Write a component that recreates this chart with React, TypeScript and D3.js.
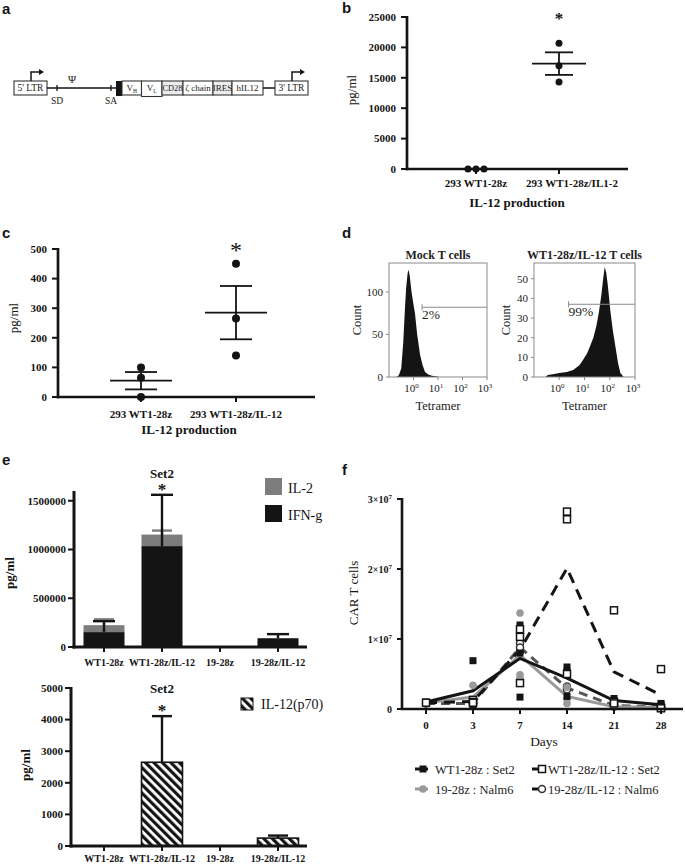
import React from "react";
import * as d3 from "d3";

const SERIF = "'Liberation Serif','Times New Roman',Times,serif";
const SANS = "'Liberation Sans',Arial,Helvetica,sans-serif";
const INK = "#141414";

// ---------- panel a: vector map ----------
const mapLabels = ["5' LTR", "", "", "VH", "VL", "CD28", "ζ chain", "IRES", "hIL12", "", "3' LTR"];
const mapKinds = ["ltr", "line", "leader", "box", "box", "boxg", "box", "boxg", "box", "line", "ltr"];
const mapLengths = [33, 69, 6, 19.5, 20.5, 21, 30, 19, 31, 12, 33];
const mapSiteLabels = ["SD", "SA"];
const mapSitePos = [43, 97];
const mapPsiPos = 58;

// ---------- panel b ----------
const bCats = ["293 WT1-28z", "293 WT1-28z/IL1-2"];
const bValues = [
  [0, 0, 0],
  [20700, 17000, 14300],
];
const bTicks = [0, 5000, 10000, 15000, 20000, 25000];

// ---------- panel c ----------
const cCats = ["293 WT1-28z", "293 WT1-28z/IL-12"];
const cValues = [
  [100, 65, 0],
  [450, 265, 140],
];
const cTicks = [0, 100, 200, 300, 400, 500];

// ---------- panel d: histograms (log10 tetramer, count) ----------
const mockHist: [number, number][] = [
  [-0.7, 0], [-0.6, 2], [-0.5, 10], [-0.42, 40], [-0.35, 80], [-0.3, 105], [-0.24, 122],
  [-0.2, 126], [-0.15, 118], [-0.08, 100], [0, 85], [0.06, 75], [0.15, 50], [0.27, 26],
  [0.37, 14], [0.47, 6], [0.6, 3], [0.75, 1.5], [0.95, 0.5], [1.05, 0],
];
const carHist: [number, number][] = [
  [-0.55, 0], [-0.45, 1], [-0.2, 1.5], [0, 2], [0.3, 2.5], [0.55, 3.5], [0.8, 6], [0.94, 8.6],
  [1.1, 12], [1.2, 15], [1.35, 20], [1.47, 26], [1.57, 33], [1.66, 41], [1.74, 50], [1.8, 56],
  [1.86, 53], [1.92, 47], [2.03, 33], [2.13, 23], [2.23, 15], [2.33, 7], [2.42, 2], [2.55, 0],
];
const mockTicks = [0, 50, 100];
const carTicks = [0, 10, 20, 30, 40, 50];
const decades = [0, 1, 2, 3];

// ---------- panel e ----------
const eCats = ["WT1-28z", "WT1-28z/IL-12", "19-28z", "19-28z/IL-12"];
const ifng = [153000, 1035000, 0, 90000];
const ifngErr = [112000, 526000, 0, 42000];
const il2 = [71000, 118000, 0, 0];
const il2Err = [60000, 41000, 0, 0];
const eTopTicks = [0, 500000, 1000000, 1500000];
const il12 = [0, 2650, 0, 250];
const il12Err = [0, 1460, 0, 80];
const eBotTicks = [0, 1000, 2000, 3000, 4000, 5000];

// ---------- panel f ----------
const days = ["0", "3", "7", "14", "21", "28"];
const wt1Pts = [[1.0e6], [6.9e6, 0.5e6, 0.4e6], [12.0e6, 8.0e6, 1.7e6], [6.0e6, 5.4e6, 1.8e6], [1.5e6, 1.2e6, 0.9e6], [0.8e6, 0.6e6, 0.4e6]];
const wt1Il12Pts = [[0.9e6], [1.3e6, 1.0e6, 0.9e6], [11.4e6, 10.3e6, 3.7e6], [28.2e6, 27.1e6, 5.0e6], [14.1e6, 1.0e6, 0.8e6], [5.7e6, 0.2e6, 0.1e6]];
const cd19Pts = [[0.9e6], [3.4e6, 0.9e6, 0.8e6], [13.7e6, 4.9e6, 4.4e6], [3.1e6, 1.5e6, 0.8e6], [0.4e6, 0.3e6, 0.3e6], [0.2e6, 0.2e6, 0.2e6]];
const cd19Il12Pts = [[0.8e6], [0.8e6, 0.9e6, 0.7e6], [9.4e6, 8.2e6, 8.8e6], [3.0e6, 3.2e6, 2.8e6], [0.5e6, 0.6e6, 0.4e6], [0.3e6, 0.3e6, 0.3e6]];
const fSeriesNames = ["WT1-28z : Set2", "WT1-28z/IL-12 : Set2", "19-28z : Nalm6", "19-28z/IL-12 : Nalm6"];
const fTicks = [0, 1e7, 2e7, 3e7];

function PanelLetter({ x, y, t }: { x: number; y: number; t: string }) {
  return (
    <text x={x} y={y} fontFamily={SANS} fontWeight="bold" fontSize={15} fill={INK}>
      {t}
    </text>
  );
}

function PanelA() {
  const total = d3.sum(mapLengths);
  const x = d3.scaleLinear().domain([0, total]).range([14, 308]);
  const starts = Array.from(d3.cumsum([0, ...mapLengths]));
  const yT = 81, yB = 95, yM = 88;
  const arrow = (ax: number) => (
    <g>
      <path d={`M${ax},${yT} V${yT - 9} H${ax + 9}`} fill="none" stroke={INK} strokeWidth={1.5} />
      <path d={`M${ax + 13},${yT - 9} L${ax + 8},${yT - 12} L${ax + 8},${yT - 6} Z`} fill={INK} />
    </g>
  );
  return (
    <g fontFamily={SERIF}>
      {mapKinds.map((k, i) => {
        const x0 = x(starts[i]);
        const x1 = x(starts[i + 1]);
        const lab = mapLabels[i];
        if (k === "line")
          return <line key={i} x1={x0} x2={x1} y1={yM} y2={yM} stroke={INK} strokeWidth={1.5} />;
        if (k === "leader")
          return <rect key={i} x={x0} y={yT} width={x1 - x0} height={yB - yT + 1} fill={INK} />;
        const isV = lab.length === 2 && lab[0] === "V";
        return (
          <g key={i}>
            <rect x={x0} y={yT} width={x1 - x0} height={yB - yT + (lab === "VL" ? 1.5 : 0)} fill={k === "boxg" ? "#ececec" : "#fff"} stroke="#333" strokeWidth={1.1} />
            <text x={(x0 + x1) / 2} y={yM + 3.3} textAnchor="middle" fontSize={k === "ltr" ? 9.5 : lab === "CD28" ? 8.3 : 9} fill="#222">
              {isV ? (
                <>
                  V<tspan fontSize={5.5} dy={2}>{lab[1]}</tspan>
                </>
              ) : (
                lab
              )}
            </text>
            {k === "ltr" && arrow(x0 + 17)}
          </g>
        );
      })}
      {mapSiteLabels.map((s, i) => {
        const sx = x(mapSitePos[i]);
        return (
          <g key={s}>
            <line x1={sx} x2={sx} y1={yM - 3} y2={yM + 3} stroke={INK} strokeWidth={1.3} />
            <text x={sx} y={yM + 16} textAnchor="middle" fontSize={9.5} fill="#222">{s}</text>
          </g>
        );
      })}
      <text x={x(mapPsiPos)} y={yM - 5} textAnchor="middle" fontSize={11} fill="#222">Ψ</text>
    </g>
  );
}

type DotProps = {
  cats: string[]; values: number[][]; ticks: number[];
  axisX: number; axisEnd: number; yTop: number; yBot: number;
  centers: number[]; labelCenters: number[]; jitter: number[][];
  labelY: number; titleX: number; titleY: number; yLabelX: number; yLabelY: number;
  starY: number; starSize: number; starBold: boolean; meanHalf: number; whiskHalf: number; r: number;
};

function DotPanel(p: DotProps) {
  const y = d3.scaleLinear().domain([0, d3.max(p.ticks)!]).range([p.yBot, p.yTop]);
  return (
    <g fontFamily={SERIF} fill={INK}>
      <line x1={p.axisX} x2={p.axisX} y1={p.yTop - 1} y2={p.yBot + 1.3} stroke={INK} strokeWidth={2.7} />
      <line x1={p.axisX - 1.3} x2={p.axisEnd} y1={p.yBot} y2={p.yBot} stroke={INK} strokeWidth={2.7} />
      {p.ticks.map((t) => (
        <g key={t}>
          <line x1={p.axisX - 6} x2={p.axisX} y1={y(t)} y2={y(t)} stroke={INK} strokeWidth={2} />
          <text x={p.axisX - 11} y={y(t)} dy="0.35em" textAnchor="end" fontSize={11} fontWeight="bold">{t}</text>
        </g>
      ))}
      {p.cats.map((c, i) => {
        const cx = p.centers[i];
        const vals = p.values[i];
        const m = d3.mean(vals)!;
        const sem = (d3.deviation(vals) || 0) / Math.sqrt(vals.length);
        return (
          <g key={c}>
            <line x1={cx} x2={cx} y1={p.yBot} y2={p.yBot + 5} stroke={INK} strokeWidth={2} />
            <text x={p.labelCenters[i]} y={p.labelY} textAnchor="middle" fontSize={11} fontWeight="bold">{c}</text>
            {sem > 0 && (
              <g stroke={INK} strokeWidth={1.8}>
                <line x1={cx - p.meanHalf} x2={cx + p.meanHalf} y1={y(m)} y2={y(m)} />
                <line x1={cx} x2={cx} y1={y(m - sem)} y2={y(m + sem)} />
                <line x1={cx - p.whiskHalf} x2={cx + p.whiskHalf} y1={y(m + sem)} y2={y(m + sem)} />
                <line x1={cx - p.whiskHalf} x2={cx + p.whiskHalf} y1={y(m - sem)} y2={y(m - sem)} />
              </g>
            )}
            {vals.map((v, j) => (
              <circle key={j} cx={cx + p.jitter[i][j]} cy={y(v)} r={p.r} fill={INK} />
            ))}
          </g>
        );
      })}
      <text x={p.centers[1]} y={p.starY} textAnchor="middle" fontSize={p.starSize} fontWeight={p.starBold ? "bold" : "normal"}>*</text>
      <text x={p.titleX} y={p.titleY} textAnchor="middle" fontSize={13} fontWeight="bold">IL-12 production</text>
      <text transform={`translate(${p.yLabelX},${p.yLabelY}) rotate(-90)`} textAnchor="middle" fontSize={13}>pg/ml</text>
    </g>
  );
}

function sup(base: string, s: string, size: number) {
  return (
    <>
      {base}
      <tspan fontSize={size} dy={-4}>{s}</tspan>
    </>
  );
}

type HistProps = {
  data: [number, number][]; ticks: number[]; yMax: number; x0: number; x1: number; yTop: number; yBot: number;
  gateLog: number; gateCount: number; gateLabel: string; title: string; titleX: number; yLabelX: number;
};

function Hist(p: HistProps) {
  const x = d3.scaleLinear().domain([-1, 3]).range([p.x0, p.x1]);
  const y = d3.scaleLinear().domain([0, p.yMax]).range([p.yBot, p.yTop]);
  const area = d3.area<[number, number]>().x((d) => x(d[0])).y0(y(0)).y1((d) => y(d[1])).curve(d3.curveLinear);
  const gx = x(p.gateLog);
  const gy = y(p.gateCount);
  const cx = (p.x0 + p.x1) / 2;
  return (
    <g fontFamily={SERIF} fill="#222">
      <path d={area(p.data)!} fill={INK} />
      <rect x={p.x0} y={p.yTop} width={p.x1 - p.x0} height={p.yBot - p.yTop} fill="none" stroke="#8a8a8a" strokeWidth={1} />
      {p.ticks.map((t) => (
        <g key={t}>
          <line x1={p.x0 - 3} x2={p.x0} y1={y(t)} y2={y(t)} stroke="#8a8a8a" />
          <text x={p.x0 - 6} y={y(t)} dy="0.35em" textAnchor="end" fontSize={11}>{t}</text>
        </g>
      ))}
      {decades.map((d) => (
        <g key={d}>
          <line x1={x(d)} x2={x(d)} y1={p.yBot} y2={p.yBot + 3} stroke="#8a8a8a" />
          <text x={x(d) - 2} y={p.yBot + 15} textAnchor="middle" fontSize={11}>{sup("10", String(d), 7)}</text>
        </g>
      ))}
      <line x1={gx} x2={p.x1} y1={gy} y2={gy} stroke="#8a8a8a" strokeWidth={1} />
      <line x1={gx} x2={gx} y1={gy - 3} y2={gy + 3} stroke="#8a8a8a" strokeWidth={1} />
      <text x={gx} y={gy + 12} fontSize={13.5}>{p.gateLabel}</text>
      <text x={cx} y={259} textAnchor="middle" fontSize={12} fontWeight="bold">{p.title}</text>
      <text x={cx} y={410} textAnchor="middle" fontSize={12.5}>Tetramer</text>
      <text transform={`translate(${p.yLabelX},${(p.yTop + p.yBot) / 2}) rotate(-90)`} textAnchor="middle" fontSize={12.5}>Count</text>
    </g>
  );
}

function ErrBar({ x, y0, y1, half, color }: { x: number; y0: number; y1: number; half: number; color: string }) {
  return (
    <g stroke={color} strokeWidth={2.4}>
      <line x1={x} x2={x} y1={y0} y2={y1} />
      <line x1={x - half} x2={x + half} y1={y1} y2={y1} />
    </g>
  );
}

function PanelETop() {
  const x = d3.scalePoint<string>().domain(eCats).range([104, 278]);
  const y = d3.scaleLinear().domain([0, 1600000]).range([647, 491]);
  const bw = 41;
  return (
    <g fontFamily={SERIF} fill={INK}>
      {eCats.map((c, i) => {
        const cx = x(c)!;
        return (
          <g key={c}>
            {ifng[i] > 0 && <rect x={cx - bw / 2} y={y(ifng[i])} width={bw} height={y(0) - y(ifng[i])} fill={INK} />}
            {il2[i] > 0 && <rect x={cx - bw / 2} y={y(ifng[i] + il2[i])} width={bw} height={y(ifng[i]) - y(ifng[i] + il2[i])} fill="#7d7d7d" />}
            {il2Err[i] > 0 && <ErrBar x={cx} y0={y(ifng[i] + il2[i])} y1={y(ifng[i] + il2[i] + il2Err[i])} half={10} color="#7d7d7d" />}
            {ifngErr[i] > 0 && <ErrBar x={cx} y0={y(ifng[i])} y1={y(ifng[i] + ifngErr[i])} half={11} color={INK} />}
            <line x1={cx} x2={cx} y1={647} y2={652} stroke={INK} strokeWidth={2} />
            <text x={cx} y={666} textAnchor="middle" fontSize={10} fontWeight="bold">{c}</text>
          </g>
        );
      })}
      <line x1={74} x2={74} y1={491} y2={648.5} stroke={INK} strokeWidth={3} />
      <line x1={72.5} x2={307} y1={647} y2={647} stroke={INK} strokeWidth={3} />
      {eTopTicks.map((t) => (
        <g key={t}>
          <line x1={68} x2={74} y1={y(t)} y2={y(t)} stroke={INK} strokeWidth={2} />
          <text x={66} y={y(t)} dy="0.35em" textAnchor="end" fontSize={11} fontWeight="bold">{t}</text>
        </g>
      ))}
      <text x={x(eCats[1])!} y={478} textAnchor="middle" fontSize={13} fontWeight="bold">Set2</text>
      <text x={x(eCats[1])!} y={495} textAnchor="middle" fontSize={17} fontWeight="bold">*</text>
      <text transform="translate(14,573) rotate(-90)" textAnchor="middle" fontSize={13} fontWeight="bold">pg/ml</text>
      <rect x={265} y={478} width={17} height={17} fill="#7d7d7d" />
      <text x={288} y={493} fontSize={14}>IL-2</text>
      <rect x={265} y={505} width={17} height={17} fill={INK} />
      <text x={288} y={520} fontSize={14}>IFN-g</text>
    </g>
  );
}

function PanelEBot() {
  const x = d3.scalePoint<string>().domain(eCats).range([104, 278]);
  const y = d3.scaleLinear().domain([0, 5000]).range([846, 688]);
  const bw = 41;
  return (
    <g fontFamily={SERIF} fill={INK}>
      <defs>
        <pattern id="hatch" patternUnits="userSpaceOnUse" width={6} height={6} patternTransform="rotate(-45)">
          <rect width={6} height={6} fill="#fff" />
          <rect width={3.2} height={6} fill={INK} />
        </pattern>
      </defs>
      {eCats.map((c, i) => {
        const cx = x(c)!;
        return (
          <g key={c}>
            {il12[i] > 0 && (
              <rect x={cx - bw / 2} y={y(il12[i])} width={bw} height={y(0) - y(il12[i])} fill="url(#hatch)" stroke={INK} strokeWidth={1.6} />
            )}
            {il12Err[i] > 0 && <ErrBar x={cx} y0={y(il12[i])} y1={y(il12[i] + il12Err[i])} half={10} color={INK} />}
            <line x1={cx} x2={cx} y1={846} y2={851} stroke={INK} strokeWidth={2} />
            <text x={cx} y={862} textAnchor="middle" fontSize={10} fontWeight="bold">{c}</text>
          </g>
        );
      })}
      <line x1={71} x2={71} y1={687} y2={847.5} stroke={INK} strokeWidth={3} />
      <line x1={69.5} x2={307} y1={846} y2={846} stroke={INK} strokeWidth={3} />
      {eBotTicks.map((t) => (
        <g key={t}>
          <line x1={65} x2={71} y1={y(t)} y2={y(t)} stroke={INK} strokeWidth={2} />
          <text x={63} y={y(t)} dy="0.35em" textAnchor="end" fontSize={11} fontWeight="bold">{t}</text>
        </g>
      ))}
      <text x={x(eCats[1])!} y={693} textAnchor="middle" fontSize={13} fontWeight="bold">Set2</text>
      <text x={x(eCats[1])!} y={716} textAnchor="middle" fontSize={17} fontWeight="bold">*</text>
      <text transform="translate(30,765) rotate(-90)" textAnchor="middle" fontSize={13} fontWeight="bold">pg/ml</text>
      <rect x={241} y={698} width={12} height={12} fill="url(#hatch)" stroke={INK} strokeWidth={1} />
      <text x={261} y={709} fontSize={14}>IL-12(p70)</text>
    </g>
  );
}

function Marker({ kind, x, y }: { kind: number; x: number; y: number }) {
  if (kind === 0) return <rect x={x - 3.5} y={y - 3.5} width={7} height={7} fill={INK} />;
  if (kind === 1) return <rect x={x - 3.5} y={y - 3.5} width={7} height={7} fill="#fff" stroke={INK} strokeWidth={1.5} />;
  if (kind === 2) return <circle cx={x} cy={y} r={3.8} fill="#9a9a9a" />;
  return <circle cx={x} cy={y} r={3.5} fill="#fff" stroke="#333" strokeWidth={1.5} />;
}

function PanelF() {
  const x = d3.scalePoint<string>().domain(days).range([426, 661]);
  const y = d3.scaleLinear().domain([0, 3e7]).range([709, 499]);
  const series = [wt1Pts, wt1Il12Pts, cd19Pts, cd19Il12Pts];
  const colors = [INK, INK, "#9a9a9a", "#555"];
  const dashes = [undefined, "11 7", undefined, "9 6"];
  const line = d3.line<number>().x((_, i) => x(days[i])!).y((d) => y(d));
  const order = [3, 2, 0, 1];
  return (
    <g fontFamily={SERIF} fill={INK}>
      {order.map((s) => (
        <path key={s} d={line(series[s].map((pts) => d3.mean(pts)!))!} fill="none" stroke={colors[s]} strokeWidth={3} strokeDasharray={dashes[s]} />
      ))}
      {[3, 2, 0, 1].map((s) => (
        <g key={s}>
          {series[s].map((pts, di) => pts.map((v, j) => <Marker key={`${di}-${j}`} kind={s} x={x(days[di])!} y={y(v)} />))}
        </g>
      ))}
      <line x1={402} x2={402} y1={498} y2={710} stroke={INK} strokeWidth={2.6} />
      <line x1={400.7} x2={683} y1={709} y2={709} stroke={INK} strokeWidth={2.6} />
      {fTicks.map((t) => {
        const e = Math.round(t / 1e7);
        return (
          <g key={t}>
            <line x1={397} x2={402} y1={y(t)} y2={y(t)} stroke={INK} strokeWidth={2} />
            <text x={392} y={y(t)} dy="0.35em" textAnchor="end" fontSize={10} fontWeight="bold">
              {t === 0 ? "0" : sup(`${e}×10`, "7", 7)}
            </text>
          </g>
        );
      })}
      {days.map((d) => (
        <g key={d}>
          <line x1={x(d)} x2={x(d)} y1={709} y2={714} stroke={INK} strokeWidth={2} />
          <text x={x(d)} y={729} textAnchor="middle" fontSize={11} fontWeight="bold">{d}</text>
        </g>
      ))}
      <text x={544} y={746} textAnchor="middle" fontSize={13.5}>Days</text>
      <text transform="translate(358,593) rotate(-90)" textAnchor="middle" fontSize={13}>CAR T cells</text>
      {fSeriesNames.map((n, i) => {
        const col = i % 2;
        const row = Math.floor(i / 2);
        const lx = col === 0 ? 415 : 532;
        const ly = row === 0 ? 769 : 789;
        return (
          <g key={n}>
            <line x1={lx} x2={lx + 13} y1={ly} y2={ly} stroke={i === 2 ? "#9a9a9a" : INK} strokeWidth={3} />
            <Marker kind={i} x={lx + (col === 0 ? 8 : 10)} y={ly} />
            <text x={col === 0 ? 435 : 548} y={ly + 4.5} fontSize={12.5} fill="#222">{n}</text>
          </g>
        );
      })}
    </g>
  );
}

export default function App() {
  return (
    <svg width={685} height={865} style={{ position: "absolute", left: 0, top: 0, background: "#fff" }}>
      <rect width={685} height={865} fill="#fff" />
      <PanelLetter x={2} y={14} t="a" />
      <PanelLetter x={342} y={13} t="b" />
      <PanelLetter x={2} y={238} t="c" />
      <PanelLetter x={342} y={238} t="d" />
      <PanelLetter x={2} y={465} t="e" />
      <PanelLetter x={342} y={475} t="f" />
      <PanelA />
      <DotPanel
        cats={bCats} values={bValues} ticks={bTicks} axisX={407} axisEnd={628} yTop={17} yBot={169}
        centers={[476, 559]} labelCenters={[476, 572]} jitter={[[-8, 0, 8], [0, 0, 0]]}
        labelY={187} titleX={517} titleY={207} yLabelX={356} yLabelY={90}
        starY={24} starSize={17} starBold={true} meanHalf={27} whiskHalf={14} r={3.5}
      />
      <DotPanel
        cats={cCats} values={cValues} ticks={cTicks} axisX={58} axisEnd={315} yTop={249} yBot={397}
        centers={[141, 236]} labelCenters={[141, 236]} jitter={[[0, 0, 0], [0, 0, 0]]}
        labelY={418} titleX={189} titleY={434} yLabelX={18} yLabelY={318}
        starY={258} starSize={24} starBold={false} meanHalf={31} whiskHalf={16} r={4}
      />
      <Hist data={mockHist} ticks={mockTicks} yMax={134} x0={389} x1={487} yTop={263} yBot={377}
        gateLog={0.35} gateCount={82} gateLabel="2%" title="Mock T cells" yLabelX={361} />
      <Hist data={carHist} ticks={carTicks} yMax={58} x0={534} x1={635} yTop={263} yBot={377}
        gateLog={0.37} gateCount={37} gateLabel="99%" title="WT1-28z/IL-12 T cells" yLabelX={510} />
      <PanelETop />
      <PanelEBot />
      <PanelF />
    </svg>
  );
}
